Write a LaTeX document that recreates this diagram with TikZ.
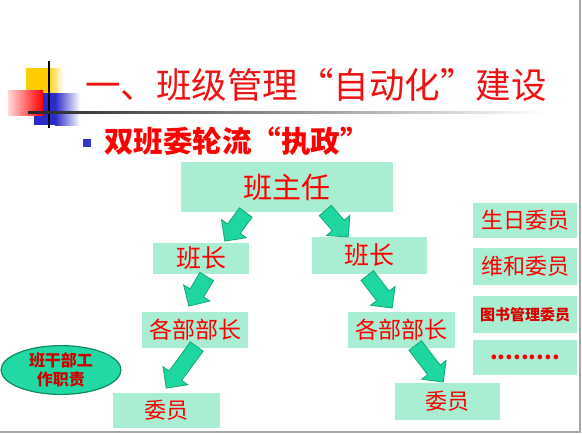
\documentclass[tikz,border=0pt]{standalone}
\usepackage{fontspec}
\usetikzlibrary{shapes.geometric,shapes.arrows,calc}
\newfontfamily\cjk{Noto Sans CJK SC}
\definecolor{mint}{HTML}{A9EDD3}
\definecolor{arrfill}{HTML}{1FD6A0}
\definecolor{arredge}{HTML}{14A87A}
\definecolor{ttl}{HTML}{EE1111}
\definecolor{ovalfill}{HTML}{22D9A5}
\definecolor{ovaledge}{HTML}{108A60}
\definecolor{ovaltext}{HTML}{D00000}
\definecolor{bullet}{HTML}{3535C8}
\definecolor{decoyellow}{HTML}{FFCC00}
\definecolor{decoblue}{HTML}{2B2BC8}

\begin{document}
\begin{tikzpicture}[x=1pt,y=-1pt,
    box/.style={rectangle,fill=mint,text=red,inner sep=0pt,font=\cjk\fontsize{#1}{#1}\selectfont},
    box/.default=23,
    arrnode/.style={single arrow,fill=arrfill,draw=arredge,line width=0.8pt,inner sep=7.5pt,
        single arrow head extend=7.5pt,minimum width=0pt},
    fat/.style={to path={let \p1=(\tikztostart),\p2=(\tikztotarget),
        \n1={atan2(\y2-\y1,\x2-\x1)},\n2={veclen(\x2-\x1,\y2-\y1)} in
        node[arrnode,rotate=\n1,minimum height=\n2,anchor=tail] at (\p1) {}}},
]
\useasboundingbox (0,0) rectangle (582,434);

% title decoration
\fill[decoyellow] (26,68) rectangle (48,104);
\shade[left color=decoyellow,right color=white] (48,68) rectangle (63,104);
\fill[decoblue] (34,93) rectangle (55,125);
\shade[left color=decoblue,right color=white] (55,93) rectangle (80,125);
\shade[left color=red!15,right color=red] (8,90) rectangle (43,115);
\draw[line width=1.5pt] (49,61) -- (49,128);
\shade[left color=black!85,right color=white] (28,111) rectangle (545,113);

% slide frame
\draw[gray!70,line width=2pt] (580,0) -- (580,432) -- (0,432);

% headings
\node[anchor=west,inner sep=0pt,text=ttl,font=\cjk\fontsize{35.5}{38}\selectfont] (title) at (85,85) {一、班级管理“自动化”建设};
\fill[bullet] (83,139) rectangle (91,147);
\node[anchor=west,inner sep=0pt,text=red,font=\cjk\bfseries\fontsize{29.5}{31}\selectfont] (sub) at (104,141) {双班委轮流“执政”};

% tree
\node[box=29,minimum width=212,minimum height=50] (zr) at (287,187) {班主任};
\node[box=25,minimum width=96,minimum height=31] (bzl) at (201,258.5) {班长};
\node[box=25,minimum width=115,minimum height=37] (bzr) at (369.5,255.5) {班长};
\node[box=23,minimum width=106,minimum height=36] (bbl) at (195,330) {各部部长};
\node[box=23,minimum width=107,minimum height=36] (bbr) at (401.5,330) {各部部长};
\node[box=22,minimum width=107,minimum height=35] (wyl) at (166.5,410.5) {委员};
\node[box=22,minimum width=105,minimum height=37] (wyr) at (447.5,401.5) {委员};

\path ($(zr.south)+(-41,0)$) to[fat] ($(bzl.north)+(24,-2)$);
\path ($(zr.south)+(38,-2)$) to[fat] ($(bzr.north)+(-21.5,0)$);
\path ($(bzl.south)+(6,2)$) to[fat] ($(bbl.north)+(-6,-6)$);
\path ($(bzr.south)+(-2.5,1)$) to[fat] ($(bbr.north)+(-9.5,-4)$);
\path ($(bbl.south)+(2,-2)$) to[fat] ($(wyl.north)+(0,-5)$);
\path ($(bbr.south)+(13.5,-3)$) to[fat] ($(wyr.north)+(-4.5,-1)$);

% right column
\node[box=22,minimum width=104,minimum height=35] (sr) at (525,220.5) {生日委员};
\node[box=22,minimum width=104,minimum height=37] (wh) at (525,266.5) {维和委员};
\node[box=15,minimum width=104,minimum height=37,text=red!85!black,font=\cjk\bfseries\fontsize{15}{15}\selectfont] (ts) at (525,314.5) {图书管理委员};
\node[box=22,minimum width=104,minimum height=35,font=\cjk\bfseries\fontsize{22}{22}\selectfont] (more) at (525,357.5) {.........};

% duty oval
\node[ellipse,fill=ovalfill,draw=ovaledge,line width=1.2pt,minimum width=120,minimum height=46,inner sep=0pt,
    align=center,text=ovaltext,font=\cjk\bfseries\fontsize{16}{19}\selectfont] (duty) at (61,370) {班干部工\\作职责};
\end{tikzpicture}
\end{document}
